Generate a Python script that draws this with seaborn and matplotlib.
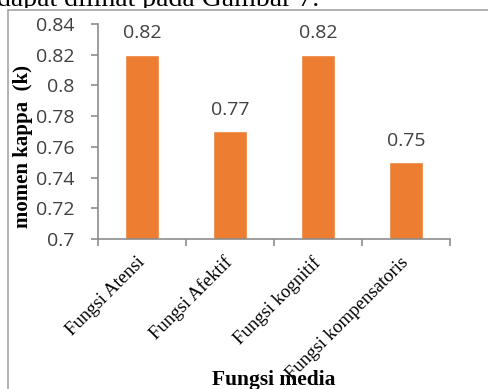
import matplotlib
matplotlib.use("Agg")
import matplotlib.pyplot as plt
from matplotlib.patches import Rectangle
from matplotlib.lines import Line2D
import seaborn as sns
import pandas as pd
import numpy as np

categories = ["Fungsi Atensi", "Fungsi Afektif", "Fungsi kognitif", "Fungsi kompensatoris"]
kappa = [0.82, 0.77, 0.82, 0.75]
y_ticks = [0.7, 0.72, 0.74, 0.76, 0.78, 0.8, 0.82, 0.84]
y_tick_labels = ["0.7", "0.72", "0.74", "0.76", "0.78", "0.8", "0.82", "0.84"]

df = pd.DataFrame({"fungsi": categories, "kappa": kappa})

sns.set_theme(style="white")
plt.rcParams["font.family"] = ["Open Sans", "DejaVu Sans"]

W, H = 488, 389
fig = plt.figure(figsize=(W / 100, H / 100), dpi=100)
fig.patch.set_facecolor("white")

def fx(px):
    return px / W

def fy(py):
    return 1 - py / H

# running text line above the figure frame
fig.text(fx(-3), fy(6), "dapat dilihat pada Gambar 7.", family="Liberation Serif",
         fontsize=20, color="black", ha="left", va="baseline", zorder=-2)
fig.add_artist(Rectangle((0, 0), 1, fy(7.5), transform=fig.transFigure,
                         facecolor="white", edgecolor="none", zorder=-1))
# frame around the chart
frame_c = "#a6a6a6"
fig.add_artist(Line2D([fx(8), 1], [fy(9.5), fy(9.5)], transform=fig.transFigure,
                      color=frame_c, lw=1.2))
fig.add_artist(Line2D([fx(8), fx(8)], [fy(9.5), 0], transform=fig.transFigure,
                      color=frame_c, lw=1.2))

ax_left, ax_right = 98, 450
ax = fig.add_axes([fx(ax_left), fy(239), fx(ax_right) - fx(ax_left), fy(24) - fy(239)])
sns.barplot(data=df, x="fungsi", y="kappa", color="#ED7D31", width=0.38,
            saturation=1, ax=ax, zorder=2)

ax.set_ylim(0.7, 0.84)
ax.set_xlim(-0.5, len(categories) - 0.5)
ax.set_yticks(y_ticks)
ax.set_yticklabels(y_tick_labels, fontsize=14, color="#404040")

axis_c = "#8c8c8c"
for side in ["top", "right"]:
    ax.spines[side].set_visible(False)
for side in ["left", "bottom"]:
    ax.spines[side].set_color(axis_c)
    ax.spines[side].set_linewidth(1.2)

ax.tick_params(axis="y", which="major", direction="out", length=5, width=1.2,
               color=axis_c, pad=12, left=True)

# category boundaries carry the tick marks on the x axis
ax.set_xticks(np.arange(-0.5, len(categories), 1.0), minor=True)
ax.tick_params(axis="x", which="minor", direction="out", length=5, width=1.2,
               color=axis_c, bottom=True)
ax.tick_params(axis="x", which="major", length=0, pad=15)
ax.set_xticks(range(len(categories)))
ax.set_xticklabels(categories, rotation=45, ha="right", va="center",
                   rotation_mode="anchor", family="Liberation Serif",
                   fontsize=13.5, color="black")

for bar, v in zip(ax.patches, kappa):
    ax.annotate(f"{v:.2f}", (bar.get_x() + bar.get_width() / 2, v),
                xytext=(0, 9), textcoords="offset points", ha="center",
                va="bottom", fontsize=14, color="#404040")

ax.set_xlabel("")
ax.set_ylabel("momen kappa  (k)", family="Liberation Serif", fontweight="bold",
              fontsize=15, color="black")
ax.yaxis.set_label_coords((33 - ax_left) / (ax_right - ax_left), 0.43)
fig.text(fx(274), fy(380), "Fungsi media", family="Liberation Serif",
         fontweight="bold", fontsize=15.5, ha="center", va="center", color="black")

fig.savefig("out.png", dpi=100)
